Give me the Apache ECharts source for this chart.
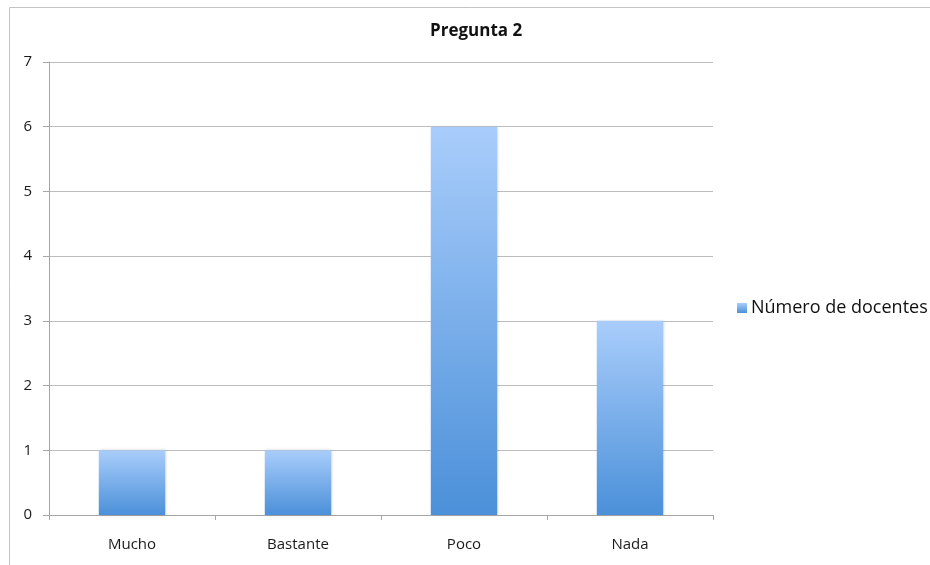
<!DOCTYPE html>
<html>
<head>
<meta charset="utf-8">
<script src="https://cdn.jsdelivr.net/npm/echarts@6/dist/echarts.min.js"></script>
<style>
  html, body { margin: 0; padding: 0; background: #fff; }
  #chart { width: 930px; height: 565px; }
</style>
</head>
<body>
<div id="chart"></div>
<script>
// Survey answers for question 2
const categories = ['Mucho', 'Bastante', 'Poco', 'Nada'];
const seriesName = 'Número de docentes';
const docentes = [1, 1, 6, 3];
const chartTitle = 'Pregunta 2';

const FONT = '"Open Sans", "Noto Sans", sans-serif';
const chart = echarts.init(document.getElementById('chart'));

const barGradient = new echarts.graphic.LinearGradient(0, 0, 0, 1, [
  { offset: 0, color: '#a9cdfb' },
  { offset: 1, color: '#4b90d9' }
]);

chart.setOption({
  animation: false,
  backgroundColor: '#ffffff',
  graphic: [{
    type: 'rect',
    shape: { x: 9.5, y: 7.5, width: 1000, height: 1000 },
    style: { fill: 'none', stroke: '#c4c4c4', lineWidth: 1 },
    silent: true,
    z: -1
  }],
  title: {
    text: chartTitle,
    left: 430,
    top: 23,
    padding: 0,
    textStyle: { fontFamily: FONT, fontSize: 17, fontWeight: 'bold', color: '#111' }
  },
  legend: {
    data: [seriesName],
    left: 737,
    top: 299,
    padding: 0,
    icon: 'rect',
    itemWidth: 10,
    itemHeight: 10,
    itemGap: 5,
    textStyle: { fontFamily: FONT, fontSize: 18, color: '#111', padding: [0, 0, 0, -1] }
  },
  grid: { left: 49, right: 217, top: 62, bottom: 50, containLabel: false },
  xAxis: {
    type: 'category',
    data: categories,
    axisLine: { lineStyle: { color: '#a6a6a6' } },
    axisTick: { show: true, length: 5, lineStyle: { color: '#a6a6a6' } },
    axisLabel: { fontFamily: FONT, fontSize: 15, color: '#1a1a1a', margin: 22 }
  },
  yAxis: {
    type: 'value',
    min: 0,
    max: 7,
    interval: 1,
    axisLine: { show: true, lineStyle: { color: '#a6a6a6' } },
    axisTick: { show: true, length: 6, lineStyle: { color: '#a6a6a6' } },
    axisLabel: { fontFamily: FONT, fontSize: 15, color: '#1a1a1a', margin: 17 },
    splitLine: { lineStyle: { color: '#bcbcbc' } }
  },
  series: [{
    name: seriesName,
    type: 'bar',
    data: docentes,
    barWidth: '40%',
    itemStyle: {
      color: barGradient,
      shadowColor: 'rgba(0,0,0,0.18)',
      shadowBlur: 3,
      shadowOffsetX: 1
    }
  }]
});
</script>
</body>
</html>
